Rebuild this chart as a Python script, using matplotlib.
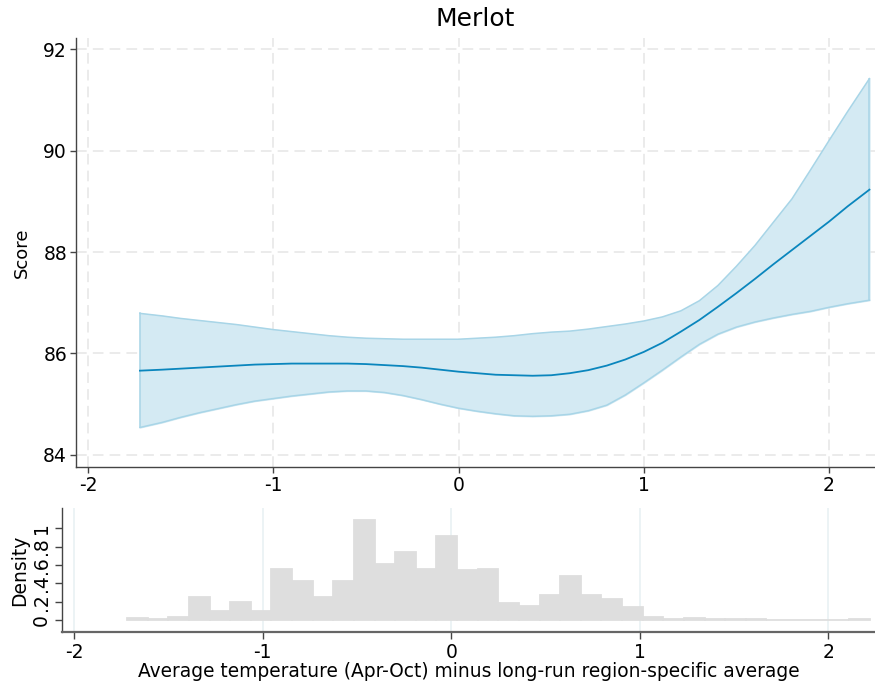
import numpy as np
import matplotlib
matplotlib.use("Agg")
import matplotlib.pyplot as plt

plt.rcParams["font.family"] = ["DejaVu Sans"]
plt.rcParams["axes.unicode_minus"] = False

# Fitted score curve with confidence band
temp = [-1.72, -1.6, -1.5, -1.4, -1.3, -1.2, -1.1, -1.0, -0.9, -0.8, -0.7, -0.6,
        -0.5, -0.4, -0.3, -0.2, -0.1, 0.0, 0.1, 0.2, 0.3, 0.4, 0.5, 0.6, 0.7, 0.8,
        0.9, 1.0, 1.1, 1.2, 1.3, 1.4, 1.5, 1.6, 1.7, 1.8, 1.9, 2.0, 2.1, 2.218]
score_fit = [85.66, 85.68, 85.70, 85.72, 85.74, 85.76, 85.78, 85.79, 85.80, 85.80, 85.80, 85.80,
             85.79, 85.77, 85.75, 85.72, 85.68, 85.64, 85.61, 85.58, 85.57, 85.56, 85.57, 85.61,
             85.67, 85.76, 85.88, 86.03, 86.21, 86.43, 86.66, 86.92, 87.19, 87.47, 87.76, 88.04,
             88.32, 88.60, 88.90, 89.23]
score_lo = [84.54, 84.64, 84.74, 84.83, 84.91, 84.99, 85.06, 85.11, 85.16, 85.20, 85.24, 85.26,
            85.26, 85.23, 85.17, 85.09, 85.00, 84.92, 84.86, 84.81, 84.77, 84.76, 84.77, 84.80,
            84.87, 84.98, 85.18, 85.42, 85.67, 85.93, 86.18, 86.38, 86.52, 86.62, 86.70, 86.77,
            86.83, 86.91, 86.98, 87.05]
score_hi = [86.79, 86.74, 86.69, 86.65, 86.61, 86.57, 86.52, 86.47, 86.43, 86.39, 86.35, 86.32,
            86.30, 86.29, 86.28, 86.28, 86.28, 86.28, 86.30, 86.32, 86.35, 86.39, 86.42, 86.44,
            86.48, 86.53, 86.58, 86.64, 86.72, 86.84, 87.04, 87.34, 87.72, 88.13, 88.59, 89.05,
            89.62, 90.20, 90.77, 91.42]

# Histogram of the temperature anomaly (36 equal-width bins)
bin_start = -1.72
bin_end = 2.219
density = [0.018, 0.011, 0.036, 0.249, 0.098, 0.195, 0.098, 0.553, 0.423, 0.249,
           0.423, 1.094, 0.607, 0.737, 0.553, 0.913, 0.542, 0.553, 0.184, 0.152,
           0.271, 0.477, 0.271, 0.228, 0.141, 0.036, 0.009, 0.022, 0.009, 0.009,
           0.009, 0.0, 0.0, 0.0, 0.0, 0.009]

x_ticks = [-2, -1, 0, 1, 2]
score_ticks = [84, 86, 88, 90, 92]
density_ticks = [0, 0.2, 0.4, 0.6, 0.8, 1.0]
density_ticklabels = ["0", ".2", ".4", ".6", ".8", "1"]

line_color = "#0a86bd"
band_color = "#d4eaf3"
band_edge = "#a8d5e7"
bar_color = "#dedede"
spine_color = "#444444"
XLIM = (-2.065, 2.248)

fig = plt.figure(figsize=(8.75, 6.88), dpi=100)

# --- main panel ---
ax = fig.add_axes([0.0869, 0.3212, 0.9131, 0.6235])
ax.fill_between(temp, score_lo, score_hi, color=band_color, zorder=2)
ax.plot(temp, score_hi, color=band_edge, lw=1.1, zorder=3)
ax.plot(temp, score_lo, color=band_edge, lw=1.1, zorder=3)
ax.plot([temp[0], temp[0]], [score_lo[0], score_hi[0]], color=band_edge, lw=1.1, zorder=3)
ax.plot([temp[-1], temp[-1]], [score_lo[-1], score_hi[-1]], color=band_edge, lw=1.1, zorder=3)
ax.plot(temp, score_fit, color=line_color, lw=1.3, zorder=4)

ax.set_xlim(*XLIM)
ax.set_ylim(83.76, 92.22)
ax.set_xticks(x_ticks)
ax.set_xticklabels([str(t) for t in x_ticks])
ax.set_yticks(score_ticks)
ax.grid(True, color="#e6e6e6", lw=1.1, linestyle=(0, (7, 4)), zorder=0)
ax.set_axisbelow(True)
for s in ["top", "right"]:
    ax.spines[s].set_visible(False)
for s in ["left", "bottom"]:
    ax.spines[s].set_color(spine_color)
    ax.spines[s].set_linewidth(1.0)
ax.tick_params(axis="both", labelsize=13.5, length=4.5, width=1.0, color=spine_color, pad=2)
ax.set_ylabel("Score", fontsize=13, labelpad=9)
ax.set_title("Merlot", fontsize=18, pad=9)

# --- density panel ---
hx = fig.add_axes([0.0709, 0.0814, 0.9291, 0.1802])
edges = np.linspace(bin_start, bin_end, len(density) + 1)
width = edges[1] - edges[0]
hx.bar(edges[:-1], density, width=width, align="edge", color=bar_color,
       edgecolor=bar_color, linewidth=1.3, zorder=2)
hx.set_xlim(*XLIM)
hx.set_ylim(-0.13, 1.22)
hx.set_xticks(x_ticks)
hx.set_xticklabels([str(t) for t in x_ticks])
hx.set_yticks(density_ticks)
hx.set_yticklabels(density_ticklabels, rotation=90, va="center")
hx.grid(True, axis="x", color="#e9f1f3", lw=1.2, zorder=0)
hx.set_axisbelow(True)
for s in ["top", "right"]:
    hx.spines[s].set_visible(False)
hx.spines["left"].set_color(spine_color)
hx.spines["left"].set_linewidth(1.0)
hx.spines["bottom"].set_color("#666666")
hx.spines["bottom"].set_linewidth(1.6)
hx.tick_params(axis="both", labelsize=13.5, length=5, width=1.0, color=spine_color, pad=3)
hx.set_ylabel("Density", fontsize=13.5, labelpad=2)
hx.set_xlabel("Average temperature (Apr-Oct) minus long-run region-specific average",
              fontsize=13.4, labelpad=0)

fig.savefig("out.png", dpi=100)
